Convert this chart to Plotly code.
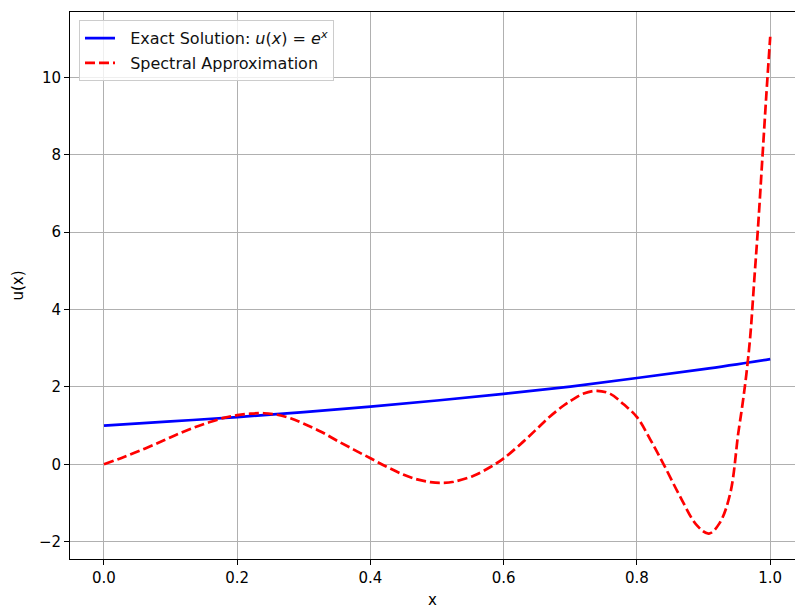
import plotly.graph_objects as go

# Exact solution values
exact_x = [0.0, 0.1, 0.2, 0.3, 0.4, 0.5, 0.6, 0.7, 0.8, 0.9, 1.0]
exact_y = [1.00, 1.11, 1.22, 1.35, 1.49, 1.65, 1.82, 2.01, 2.23, 2.46, 2.72]

# Spectral approximation values
spec_x = [0.0, 0.03, 0.062, 0.09, 0.112, 0.135, 0.157, 0.18, 0.20, 0.22,
          0.24, 0.26, 0.28, 0.30, 0.325, 0.35, 0.375, 0.40, 0.425, 0.45,
          0.47, 0.49, 0.507, 0.525, 0.554, 0.58, 0.60, 0.629, 0.65, 0.669,
          0.69, 0.704, 0.72, 0.74, 0.76, 0.78, 0.80, 0.82, 0.84, 0.865,
          0.89, 0.908, 0.924, 0.94, 0.952, 0.958, 0.964, 0.970, 0.976, 0.982,
          0.988, 0.994, 1.0]
spec_y = [0.0, 0.19, 0.41, 0.62, 0.79, 0.95, 1.08, 1.20, 1.27, 1.31,
          1.32, 1.28, 1.19, 1.05, 0.85, 0.61, 0.38, 0.155, -0.07, -0.27,
          -0.39, -0.46, -0.48, -0.45, -0.30, -0.07, 0.155, 0.58, 0.92, 1.23,
          1.52, 1.68, 1.83, 1.90, 1.82, 1.55, 1.22, 0.64, 0.0, -0.84,
          -1.58, -1.79, -1.52, -0.75, 0.80, 1.50, 2.30, 3.30, 4.75, 6.20,
          7.85, 9.50, 11.05]

x_ticks = [0.0, 0.2, 0.4, 0.6, 0.8, 1.0]
y_ticks = [-2, 0, 2, 4, 6, 8, 10]

FONT = "DejaVu Sans"
TICK_FS = 15
LEG_FS = 16

fig = go.Figure()
fig.add_trace(go.Scatter(
    x=exact_x, y=exact_y, mode="lines", legendgroup="a",
    name="\u00a0\u00a0Exact Solution: <i>u</i>(<i>x</i>)\u00a0=\u00a0<i>e</i><sup><i>x</i></sup>",
    line=dict(color="#0000ff", width=2.7, shape="spline"),
))
fig.add_trace(go.Scatter(
    x=spec_x, y=spec_y, mode="lines", legendgroup="b",
    name="\u00a0\u00a0Spectral Approximation",
    line=dict(color="#ff0000", width=2.7, dash="10px,4px", shape="spline", smoothing=1.0),
))

axis_common = dict(
    showgrid=True, gridcolor="#b0b0b0", gridwidth=1,
    showline=True, linecolor="black", linewidth=1,
    ticks="outside", ticklen=5, tickcolor="black", tickwidth=1,
    zeroline=False,
    tickfont=dict(family=FONT, size=TICK_FS, color="black"),
)

fig.update_xaxes(
    **axis_common, mirror=True, range=[-0.051, 1.0372],
    tickvals=x_ticks, ticktext=[f"{v:.1f}" for v in x_ticks],
    title=dict(text="x", font=dict(family=FONT, size=TICK_FS, color="black"), standoff=8),
)
fig.update_yaxes(
    **axis_common, range=[-2.447, 11.69],
    tickvals=y_ticks, ticktext=[("\u2212" + str(-v)) if v < 0 else str(v) for v in y_ticks],
    title=dict(text="u(x)", font=dict(family=FONT, size=TICK_FS, color="black"), standoff=11),
)

fig.update_layout(
    width=795, height=609,
    margin=dict(l=70, r=0, t=12, b=50),
    plot_bgcolor="white", paper_bgcolor="white",
    font=dict(family=FONT, size=TICK_FS, color="black"),
    showlegend=True,
    legend=dict(
        x=0.0124, y=0.985, xanchor="left", yanchor="top",
        bgcolor="rgba(255,255,255,0.8)", bordercolor="#cccccc", borderwidth=1,
        font=dict(family=FONT, size=LEG_FS, color="#111111"),
        tracegroupgap=1,
    ),
)

fig.write_html("out.html")
